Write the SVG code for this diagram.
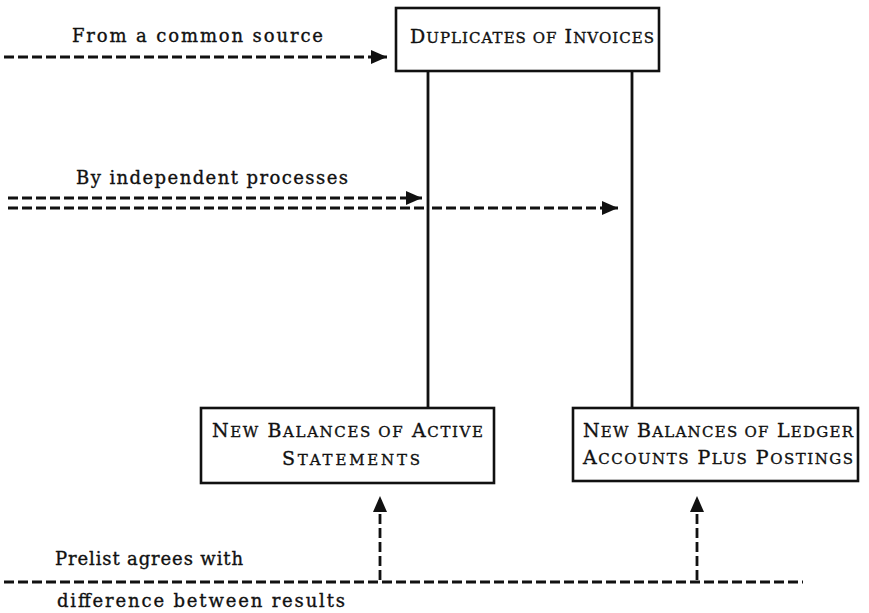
<svg xmlns="http://www.w3.org/2000/svg" width="869" height="613" viewBox="0 0 869 613">
  <style>
    .box { fill: #ffffff; stroke: #111111; stroke-width: 2.6; }
    .solid { fill: none; stroke: #111111; stroke-width: 2.8; }
    .dash { fill: none; stroke: #111111; stroke-width: 2.8; stroke-dasharray: 10 4; }
    .lbl { font-family: "DejaVu Serif", "Liberation Serif", serif; font-size: 18px; fill: #111111; stroke: #111111; stroke-width: 0.35; }
    .sc { font-family: "DejaVu Serif", "Liberation Serif", serif; font-size: 19px; fill: #111111; stroke: #111111; stroke-width: 0.35; }
    .sm { font-size: 15px; }
  </style>
  <defs>
    <marker id="head" viewBox="0 0 16 14" refX="16" refY="7" markerWidth="16" markerHeight="14" markerUnits="userSpaceOnUse" orient="auto">
      <path d="M0,0 L16,7 L0,14 Z" fill="#111111"/>
    </marker>
  </defs>

  <rect width="869" height="613" fill="#ffffff"/>

  <!-- connectors -->
  <g id="connectors">
    <line class="solid" x1="428" y1="71" x2="428" y2="408"/>
    <line class="solid" x1="632" y1="71" x2="632" y2="408"/>
    <line class="dash" x1="4" y1="57" x2="387" y2="57" marker-end="url(#head)"/>
    <line class="dash" x1="8" y1="198" x2="422" y2="198" marker-end="url(#head)"/>
    <line class="dash" x1="8" y1="208" x2="428" y2="208"/>
    <line class="dash" x1="432" y1="208" x2="618" y2="208" marker-end="url(#head)"/>
    <line class="dash" x1="4" y1="582" x2="803" y2="582"/>
    <line class="dash" x1="380" y1="580" x2="380" y2="496" marker-end="url(#head)"/>
    <line class="dash" x1="697" y1="580" x2="697" y2="496" marker-end="url(#head)"/>
  </g>

  <!-- connector labels -->
  <g id="labels">
    <text class="lbl" x="72" y="42" textLength="251" lengthAdjust="spacing">From a common source</text>
    <text class="lbl" x="76" y="184" textLength="272" lengthAdjust="spacing">By independent processes</text>
    <text class="lbl" x="55" y="565" textLength="188" lengthAdjust="spacing">Prelist agrees with</text>
    <text class="lbl" x="57" y="607" textLength="288" lengthAdjust="spacing">difference between results</text>
  </g>

  <!-- nodes: small-capital headings set as full and reduced capitals -->
  <g id="duplicates">
    <rect class="box" x="396" y="8" width="263" height="63"/>
    <text class="sc" x="410" y="43" textLength="244" lengthAdjust="spacing">D<tspan class="sm">UPLICATES OF</tspan> I<tspan class="sm">NVOICES</tspan></text>
  </g>
  <g id="active-statements">
    <rect class="box" x="201" y="408" width="293" height="75"/>
    <text class="sc" x="212" y="437" textLength="271" lengthAdjust="spacing">N<tspan class="sm">EW</tspan> B<tspan class="sm">ALANCES OF</tspan> A<tspan class="sm">CTIVE</tspan></text>
    <text class="sc" x="282" y="465" textLength="138" lengthAdjust="spacing">S<tspan class="sm">TATEMENTS</tspan></text>
  </g>
  <g id="ledger-accounts">
    <rect class="box" x="573" y="408" width="285" height="73"/>
    <text class="sc" x="583" y="437" textLength="270" lengthAdjust="spacing">N<tspan class="sm">EW</tspan> B<tspan class="sm">ALANCES OF</tspan> L<tspan class="sm">EDGER</tspan></text>
    <text class="sc" x="583" y="464" textLength="270" lengthAdjust="spacing">A<tspan class="sm">CCOUNTS</tspan> P<tspan class="sm">LUS</tspan> P<tspan class="sm">OSTINGS</tspan></text>
  </g>
</svg>
